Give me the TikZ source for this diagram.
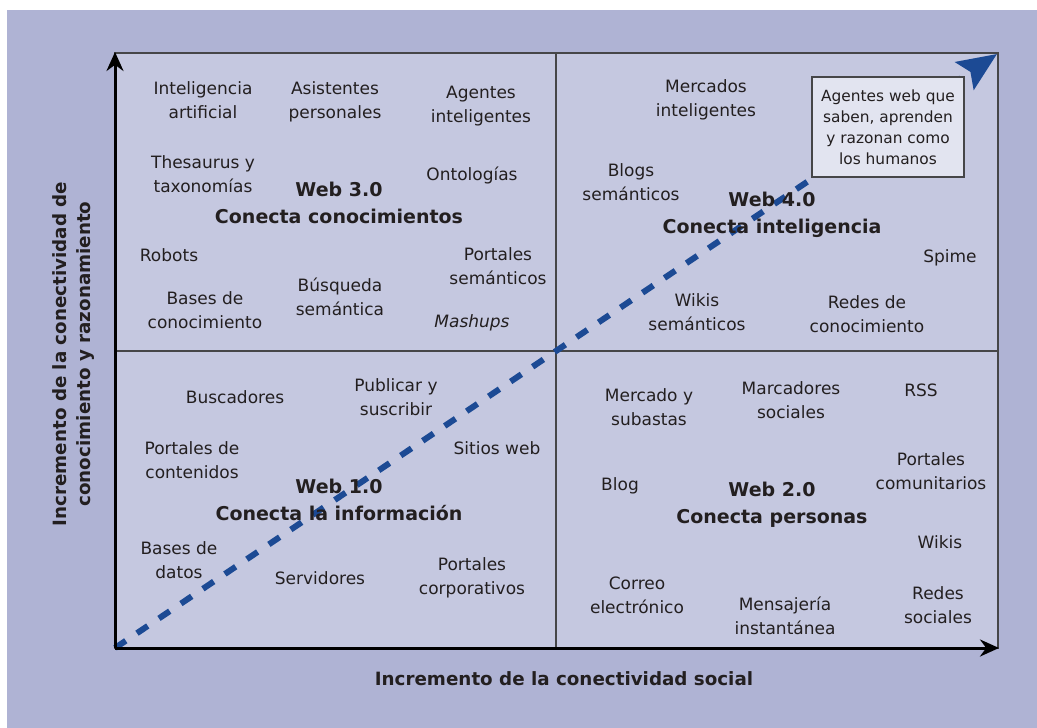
\documentclass[tikz,border=0pt]{standalone}
\usepackage{fontspec}
\setmainfont{DejaVu Sans}
\usetikzlibrary{arrows.meta}
\definecolor{bgout}{RGB}{175,179,212}
\definecolor{bgin}{RGB}{197,200,224}
\definecolor{boxfill}{RGB}{226,228,240}
\definecolor{webblue}{RGB}{28,74,148}
\definecolor{ink}{RGB}{35,31,32}
\definecolor{gridgray}{RGB}{70,70,72}

\tikzset{
  item/.style={align=center, inner sep=0pt, text=ink, font=\fontsize{17}{24}\selectfont},
  webtitle/.style={align=center, inner sep=0pt, text=ink, font=\bfseries\fontsize{19}{27}\selectfont},
  axislabel/.style={align=center, inner sep=0pt, text=ink, font=\bfseries\fontsize{18.3}{24}\selectfont},
  notebox/.style={draw=gridgray, line width=1.5pt, fill=boxfill, align=center, inner sep=0pt,
    minimum width=152pt, minimum height=100pt, text=ink, font=\fontsize{15.4}{21}\selectfont},
  axis/.style={line width=3pt, -{Stealth[length=19pt,width=17pt]}},
  webarrow/.style={webblue, line width=6pt, dash pattern=on 13pt off 13.5pt,
    -{Stealth[length=39pt,width=33pt,inset=7pt]}},
}

\begin{document}
\begin{tikzpicture}[x=1pt, y=-1pt]
    \useasboundingbox (0, 0) rectangle (1037, 728);
    \fill[bgout] (7, 10) rectangle (1037, 728);
    \fill[bgin, draw=gridgray, line width=1.5pt] (115, 53) rectangle (998, 648);

    % corners and middle points
    \coordinate (o) at (115, 648);
    \coordinate (ytop) at (115, 52);
    \coordinate (xend) at (999, 648);
    \coordinate (midtop) at (556, 53);
    \coordinate (midbot) at (556, 648);
    \coordinate (midleft) at (115, 351);
    \coordinate (midright) at (998, 351);
    \coordinate (tip) at (997, 54);

    \draw[gridgray, line width=1.5pt] (midtop) -- (midbot);
    \draw[gridgray, line width=1.5pt] (midleft) -- (midright);

    \draw[webarrow] (o) -- (tip);

    \node[notebox] (agentesweb) at (888, 127) {Agentes web que\\saben, aprenden\\y razonan como\\los humanos};

    % Web 3.0
    \node[item] (intart) at (203, 100) {Inteligencia\\artificial};
    \node[item] (asist) at (335, 102) {Asistentes\\personales};
    \node[item] (agint) at (481, 106) {Agentes\\inteligentes};
    \node[item] (thes) at (203, 174) {Thesaurus y\\taxonomías};
    \node[item] (onto) at (472, 175) {Ontologías};
    \node[webtitle] (web3) at (339, 203) {Web 3.0\\Conecta conocimientos};
    \node[item] (robots) at (169, 255) {Robots};
    \node[item] (portsem) at (498, 266) {Portales\\semánticos};
    \node[item] (busq) at (340, 297) {Búsqueda\\semántica};
    \node[item] (basecon) at (205, 310) {Bases de\\conocimiento};
    \node[item, font=\itshape\fontsize{17}{24}\selectfont] (mashups) at (472, 323) {Mashups};

    % Web 4.0
    \node[item] (merint) at (706, 100) {Mercados\\inteligentes};
    \node[item] (blogsem) at (631, 182) {Blogs\\semánticos};
    \node[webtitle] (web4) at (772, 215) {Web 4.0\\Conecta inteligencia};
    \node[item] (spime) at (950, 258) {Spime};
    \node[item] (wikisem) at (697, 312) {Wikis\\semánticos};
    \node[item] (redcon) at (867, 314) {Redes de\\conocimiento};

    % Web 1.0
    \node[item] (busc) at (235, 397) {Buscadores};
    \node[item] (publ) at (396, 397) {Publicar y\\suscribir};
    \node[item] (portcont) at (192, 460) {Portales de\\contenidos};
    \node[item] (sitios) at (497, 448) {Sitios web};
    \node[webtitle] (web1) at (339, 500) {Web 1.0\\Conecta la información};
    \node[item] (basedat) at (179, 560) {Bases de\\datos};
    \node[item] (serv) at (320, 578) {Servidores};
    \node[item] (portcorp) at (472, 578) {Portales\\corporativos};

    % Web 2.0
    \node[item] (mercsub) at (649, 407) {Mercado y\\subastas};
    \node[item] (marc) at (791, 400) {Marcadores\\sociales};
    \node[item] (rss) at (921, 390) {RSS};
    \node[item] (portcom) at (931, 471) {Portales\\comunitarios};
    \node[item] (blog) at (620, 486) {Blog};
    \node[webtitle] (web2) at (772, 505) {Web 2.0\\Conecta personas};
    \node[item] (wikis) at (940, 542) {Wikis};
    \node[item] (correo) at (637, 595) {Correo\\electrónico};
    \node[item] (mens) at (785, 616) {Mensajería\\instantánea};
    \node[item] (redsoc) at (938, 605) {Redes\\sociales};

    % axes
    \draw[axis] (o) -- (ytop);
    \draw[axis] (o) -- (xend);
    \node[axislabel] (xlabel) at (564, 679) {Incremento de la conectividad social};
    \node[axislabel, rotate=90] (ylabel) at (74, 354) {Incremento de la conectividad de\\conocimiento y razonamiento};
  \end{tikzpicture}
\end{document}
